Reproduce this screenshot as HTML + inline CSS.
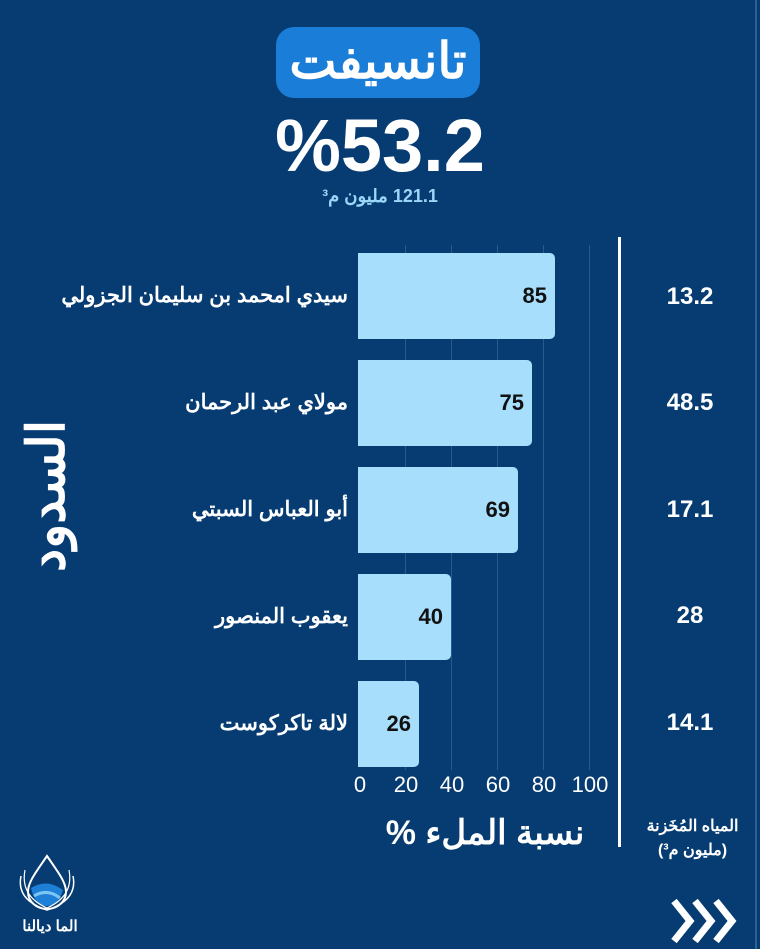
<!DOCTYPE html>
<html><head><meta charset="utf-8"><style>
body{margin:0;width:760px;height:949px;background:#063c72;overflow:hidden;position:relative;font-family:"Liberation Sans","Noto Sans CJK SC",sans-serif;color:#fff}
.a{position:absolute}
.pill{left:276px;top:27px;width:204px;height:71px;background:#1a7ed8;border-radius:18px;text-align:center;line-height:68px;font-size:50px;font-weight:bold}
.big{left:230px;width:300px;top:106px;text-align:center;font-size:74px;font-weight:bold;line-height:80px}
.sub{left:230px;width:300px;top:186px;text-align:center;font-size:18px;font-weight:bold;color:#9ad6f7}
.bar{position:absolute;left:358px;height:86px;background:#a6defc;border-radius:0 5px 5px 0}
.bar span{position:absolute;right:8px;top:30px;font-size:22px;font-weight:bold;color:#111}
.lab{position:absolute;right:412px;font-size:21px;font-weight:bold;direction:rtl;white-space:nowrap}
.val{position:absolute;left:640px;width:100px;text-align:center;font-size:24px;font-weight:bold}
.grid{position:absolute;top:245px;height:525px;width:1px;background:#2a5a8c}
.tick{position:absolute;top:772px;font-size:22px;width:50px;text-align:center;margin-left:-25px}
</style></head><body>
<div class="a" style="right:3px;top:0;width:2px;height:949px;background:#2b5f95"></div>
<div class="a pill">تانسيفت</div>
<div class="a big">%53.2</div>
<div class="a sub" dir="rtl">121.1 مليون م³</div>

<div class="grid" style="left:405px"></div><div class="grid" style="left:451px"></div><div class="grid" style="left:497px"></div><div class="grid" style="left:543px"></div><div class="grid" style="left:589px"></div>

<div class="bar" style="top:253px;width:197px"><span>85</span></div>
<div class="bar" style="top:360px;width:174px"><span>75</span></div>
<div class="bar" style="top:467px;width:160px"><span>69</span></div>
<div class="bar" style="top:574px;width:93px"><span>40</span></div>
<div class="bar" style="top:681px;width:61px"><span>26</span></div>

<div class="lab" style="top:283px">سيدي امحمد بن سليمان الجزولي</div>
<div class="lab" style="top:390px">مولاي عبد الرحمان</div>
<div class="lab" style="top:497px">أبو العباس السبتي</div>
<div class="lab" style="top:604px">يعقوب المنصور</div>
<div class="lab" style="top:711px">لالة تاكركوست</div>

<div class="val" style="top:283px">13.2</div>
<div class="val" style="top:389px">48.5</div>
<div class="val" style="top:496px">17.1</div>
<div class="val" style="top:602px">28</div>
<div class="val" style="top:709px">14.1</div>

<div class="tick" style="left:360px">0</div><div class="tick" style="left:406px">20</div><div class="tick" style="left:452px">40</div><div class="tick" style="left:498px">60</div><div class="tick" style="left:544px">80</div><div class="tick" style="left:590px">100</div>

<div class="a" style="left:618px;top:237px;width:3px;height:610px;background:#fff"></div>
<div class="a" style="left:360px;top:813px;width:250px;text-align:center;font-size:34px;font-weight:bold" dir="rtl">نسبة الملء %</div>
<div class="a" style="left:625px;top:815px;width:135px;text-align:center;font-size:16px;font-weight:bold;line-height:24px" dir="rtl">المياه المُخَزنة<br>(مليون م³)</div>

<div class="a" style="left:-28px;top:467px;width:150px;text-align:center;font-size:52px;font-weight:bold;transform:rotate(-90deg);line-height:60px">السدود</div>

<svg class="a" style="left:12px;top:850px" width="70" height="65" viewBox="0 0 70 65">
<path d="M35 6 C24 22 16 32 16 42 A19 17 0 0 0 54 42 C54 32 46 22 35 6Z" fill="none" stroke="#fff" stroke-width="2"/>
<path d="M19 38 Q35 28 51 40 Q46 56 35 56 Q23 56 19 38Z" fill="#1e7fd6"/>
<path d="M22 46 Q35 38 48 48" fill="none" stroke="#7cc6f5" stroke-width="3"/>
<path d="M9 26 Q4 50 35 60 Q66 50 61 26" fill="none" stroke="#fff" stroke-width="1.5"/>
<path d="M13 20 Q8 46 35 58" fill="none" stroke="#fff" stroke-width="1.2"/>
<path d="M57 20 Q62 46 35 58" fill="none" stroke="#fff" stroke-width="1.2"/>
</svg>
<div class="a" style="left:8px;top:917px;width:84px;text-align:center;font-size:15px;font-weight:bold">الما ديالنا</div>
<svg class="a" style="left:670px;top:898px" width="72" height="46" viewBox="0 0 72 46">
<g fill="none" stroke="#fff" stroke-width="7"><path d="M4 3 L20 23 L4 43"/><path d="M25 3 L41 23 L25 43"/><path d="M46 3 L62 23 L46 43"/></g>
</svg>
</body></html>
